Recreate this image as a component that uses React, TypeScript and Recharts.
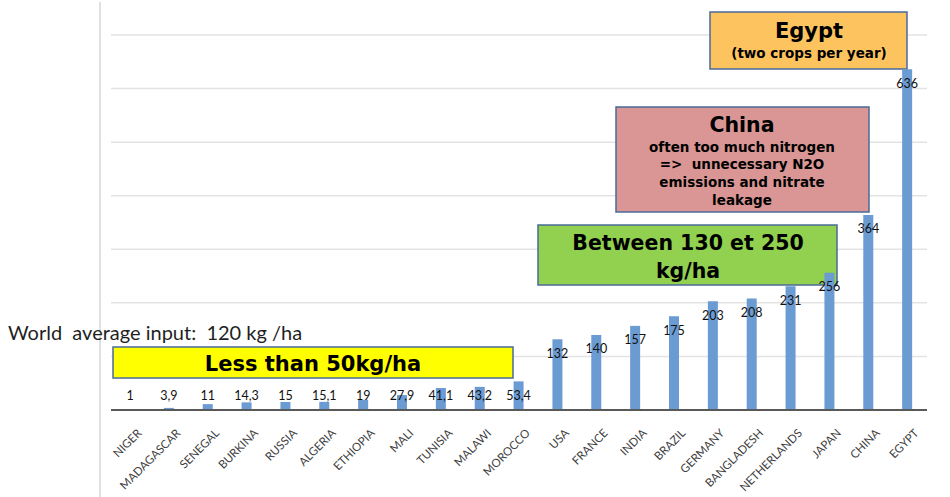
import React from 'react';
import { BarChart, Bar, XAxis, YAxis, CartesianGrid, LabelList, Customized } from 'recharts';

const countries = ['NIGER', 'MADAGASCAR', 'SENEGAL', 'BURKINA', 'RUSSIA', 'ALGERIA', 'ETHIOPIA', 'MALI', 'TUNISIA', 'MALAWI', 'MOROCCO', 'USA', 'FRANCE', 'INDIA', 'BRAZIL', 'GERMANY', 'BANGLADESH', 'NETHERLANDS', 'JAPAN', 'CHINA', 'EGYPT'];
const values = [1, 3.9, 11, 14.3, 15, 15.1, 19, 27.9, 41.1, 43.2, 53.4, 132, 140, 157, 175, 203, 208, 231, 256, 364, 636];
const yTicks = [0, 100, 200, 300, 400, 500, 600, 700];

const data = countries.map((c, i) => ({ name: c, value: values[i] }));

const LABEL_FONT = 'Lato, "Open Sans", sans-serif';
const BOX_FONT = '"DejaVu Sans", "Liberation Sans", Arial, sans-serif';

const CategoryTick = (props: any) => {
  const { x, y, payload } = props;
  return (
    <g transform={`translate(${x + 9},${y + 13})`}>
      <text
        x={0}
        y={0}
        dy="0.35em"
        textAnchor="end"
        transform="rotate(-45)"
        fill="#404040"
        fontSize={11.5}
        fontFamily={LABEL_FONT}
      >
        {payload.value}
      </text>
    </g>
  );
};

const ValueLabel = (props: any) => {
  const { x, y, width, height, value } = props;
  const base = y + height;
  const ty = Math.min(y + 14, base - 14);
  return (
    <text
      x={x + width / 2}
      y={ty}
      dy="0.35em"
      textAnchor="middle"
      fill="#111"
      fontSize={12.5}
      fontFamily={LABEL_FONT}
    >
      {String(value).replace('.', ',')}
    </text>
  );
};

const boxText = { fontFamily: BOX_FONT, fontWeight: 'bold' as const, fill: '#000', textAnchor: 'middle' as const };

const Annotations = () => (
  <g>
    <line x1={100} y1={2} x2={100} y2={497} stroke="#e0e0e0" strokeWidth={2} />
    <text x={8} y={333} dy="0.35em" fontSize={20} fontFamily={LABEL_FONT} fill="#1f1f1f" style={{ whiteSpace: 'pre' }}>
      {'World  average input:  120 kg /ha'}
    </text>

    <rect x={113} y={347} width={400} height={31} fill="#ffff00" stroke="#4a6a98" strokeWidth={1.5} />
    <text x={313} y={364} dy="0.35em" fontSize={21} {...boxText}>
      Less than 50kg/ha
    </text>

    <rect x={538} y={225} width={299} height={60} fill="#92d050" stroke="#4a6a98" strokeWidth={1.5} />
    <text x={688} y={243} dy="0.35em" fontSize={20.5} {...boxText}>
      Between 130 et 250
    </text>
    <text x={688} y={271} dy="0.35em" fontSize={20.5} {...boxText}>
      kg/ha
    </text>

    <rect x={616} y={107} width={253} height={105} fill="#d99694" stroke="#4a6a98" strokeWidth={1.5} />
    <text x={742} y={125} dy="0.35em" fontSize={20.5} {...boxText}>
      China
    </text>
    {['often too much nitrogen', '=>  unnecessary N2O', 'emissions and nitrate', 'leakage'].map((t, i) => (
      <text key={i} x={742} y={147 + i * 17.7} dy="0.35em" fontSize={13.5} {...boxText} style={{ whiteSpace: 'pre' }}>
        {t}
      </text>
    ))}

    <rect x={710} y={12} width={197} height={57} fill="#fcc35f" stroke="#4a6a98" strokeWidth={1.5} />
    <text x={809} y={31} dy="0.35em" fontSize={21} {...boxText}>
      Egypt
    </text>
    <text x={809} y={53} dy="0.35em" fontSize={13.5} {...boxText}>
      (two crops per year)
    </text>
  </g>
);

export default function App() {
  return (
    <div style={{ position: 'absolute', left: 0, top: 0, width: 950, height: 497, background: '#fff' }}>
      <BarChart
        width={950}
        height={497}
        data={data}
        margin={{ top: 35, right: 23, left: 111, bottom: 0 }}
        barSize={10}
      >
        <CartesianGrid vertical={false} stroke="#e3e3e3" strokeWidth={1.5} />
        <YAxis hide domain={[0, 700]} ticks={yTicks} />
        <XAxis
          dataKey="name"
          interval={0}
          height={87}
          tickLine={false}
          axisLine={{ stroke: '#595959', strokeWidth: 2 }}
          tick={<CategoryTick />}
        />
        <Bar dataKey="value" fill="#6b9bd3" isAnimationActive={false}>
          <LabelList dataKey="value" content={<ValueLabel />} />
        </Bar>
        <Customized component={Annotations} />
      </BarChart>
    </div>
  );
}
